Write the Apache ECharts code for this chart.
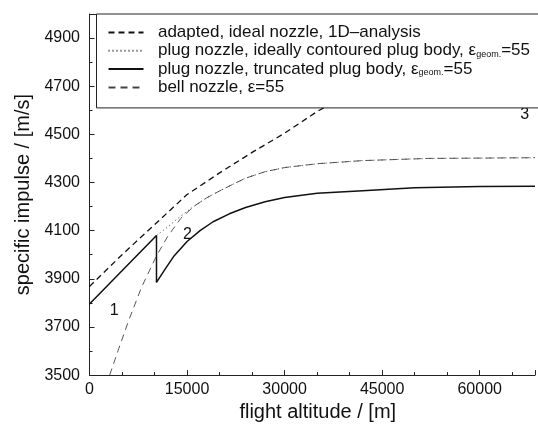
<!DOCTYPE html>
<html><head><meta charset="utf-8">
<script src="https://cdn.jsdelivr.net/npm/echarts@6/dist/echarts.min.js"></script>
<style>html,body{margin:0;padding:0;background:#fff}#c{width:538px;height:427px}</style>
</head><body><div id="c"></div>
<script>
// altitudes in m, specific impulse in m/s
const idealAlt = [0, 5000, 10000, 15000, 20000, 25000, 30000, 35000, 40000, 50000, 60000, 68500];
const idealIsp = [3868, 4000, 4125, 4250, 4340, 4425, 4505, 4595, 4670, 4800, 4910, 5000];

const plugIdealAlt = [0, 10300, 12000, 14000, 16000, 18000, 20000, 22000, 24000, 27000, 30000, 35000, 42000, 52000, 68500];
const plugIdealIsp = [3795, 4080, 4115, 4160, 4200, 4236, 4265, 4292, 4318, 4345, 4362, 4378, 4391, 4400, 4403];

const plugTruncAlt = [0, 10300, 10300, 11500, 13000, 15000, 17000, 19000, 21500, 24000, 27000, 30000, 35000, 42000, 50000, 60000, 68500];
const plugTruncIsp = [3795, 4080, 3885, 3935, 3995, 4055, 4100, 4137, 4170, 4196, 4220, 4238, 4255, 4266, 4278, 4283, 4284];

const bellAlt = [3100, 4500, 6000, 8000, 10300, 12000, 14000, 16000, 18000, 20000, 22000, 24000, 27000, 30000, 35000, 42000, 52000, 68500];
const bellIsp = [3500, 3610, 3725, 3865, 3995, 4075, 4150, 4200, 4236, 4265, 4292, 4318, 4345, 4362, 4378, 4391, 4400, 4403];

const seriesNames = [
  'adapted, ideal nozzle, 1D\u2013analysis',
  'plug nozzle, ideally contoured plug body',
  'plug nozzle, truncated plug body',
  'bell nozzle'
];
const legendTexts = [
  'adapted, ideal nozzle, 1D\u2013analysis',
  'plug nozzle, ideally contoured plug body, \u03b5{sub|geom.}=55',
  'plug nozzle, truncated plug body, \u03b5{sub|geom.}=55',
  'bell nozzle, \u03b5=55'
];
const curveLabels = ['1', '2', '3'];
const labelPos = [[3785, 3766], [15077, 4083], [66900, 4581]];

const yMin = 3500, yMax = 5000, yStep = 200;
const xMin = 0, xMax = 68500, xStep = 15000;

function zip(a, b) { return a.map((v, i) => [v, b[i]]); }

const FONT = 'Liberation Sans, Arial, Helvetica, sans-serif';
const chart = echarts.init(document.getElementById('c'), null, {renderer: 'canvas'});

const axisLineStyle = {color: '#222', width: 1};

chart.setOption({
  backgroundColor: '#fff',
  animation: false,
  grid: {left: 89.5, right: 0.5, top: 14, bottom: 43},
  legend: {
    orient: 'vertical',
    left: 96.5,
    top: 14,
    padding: [10, 40, 12, 11],
    backgroundColor: '#fff',
    borderColor: '#222',
    borderWidth: 1,
    itemWidth: 35,
    itemHeight: 10,
    itemGap: 1.3,
    selectedMode: false,
    z: 10,
    itemStyle: {opacity: 0},
    textStyle: {
      fontFamily: FONT, fontSize: 17, color: '#111', lineHeight: 17,
      rich: {sub: {fontFamily: FONT, fontSize: 9, color: '#111', lineHeight: 17, padding: [7, 0, 0, 0]}}
    },
    formatter: function (n) { return '  ' + legendTexts[seriesNames.indexOf(n)]; },
    data: seriesNames
  },
  xAxis: [{
    type: 'value', min: xMin, max: xMax, interval: xStep,
    name: 'flight altitude / [m]', nameLocation: 'middle', nameGap: 24,
    nameTextStyle: {fontFamily: FONT, fontSize: 20, color: '#111', padding: [0, 0, 0, 11]},
    axisLine: {show: true, lineStyle: axisLineStyle},
    axisTick: {show: true, inside: true, length: 5, lineStyle: axisLineStyle},
    minorTick: {show: true, splitNumber: 3, length: 3, lineStyle: axisLineStyle},
    axisLabel: {fontFamily: FONT, fontSize: 16, color: '#111', margin: 6,
      formatter: v => (v % xStep === 0 ? String(v) : '')},
    splitLine: {show: false}
  }, {
    type: 'value', position: 'top', min: xMin, max: xMax, interval: xStep,
    axisLine: {show: true, lineStyle: axisLineStyle},
    axisTick: {show: true, inside: true, length: 5, lineStyle: axisLineStyle},
    minorTick: {show: true, splitNumber: 3, length: 3, lineStyle: axisLineStyle},
    axisLabel: {show: false}, splitLine: {show: false}
  }],
  yAxis: {
    type: 'value', min: yMin, max: yMax, interval: yStep,
    name: 'specific impulse / [m/s]', nameLocation: 'middle', nameGap: 54,
    nameTextStyle: {fontFamily: FONT, fontSize: 20, color: '#111'},
    axisLine: {show: true, lineStyle: axisLineStyle},
    axisTick: {show: true, inside: true, length: 5, lineStyle: axisLineStyle},
    minorTick: {show: true, splitNumber: 2, length: 3, lineStyle: axisLineStyle},
    axisLabel: {fontFamily: FONT, fontSize: 16, color: '#111', margin: 9.5,
      formatter: v => ((v - yMin) % yStep === 0 ? String(v) : '')},
    splitLine: {show: false}
  },
  series: [
    {
      name: seriesNames[0], type: 'line', data: zip(idealAlt, idealIsp), showSymbol: false, symbol: 'none',
      lineStyle: {color: '#111', width: 1.3, type: [6, 4]}, z: 3,
      markPoint: {
        symbol: 'circle', symbolSize: 0, silent: true,
        label: {show: true, fontFamily: FONT, fontSize: 16, color: '#111', formatter: p => p.name, position: 'inside'},
        data: curveLabels.map((t, i) => ({name: t, coord: labelPos[i]}))
      }
    },
    {
      name: seriesNames[1], type: 'line', data: zip(plugIdealAlt, plugIdealIsp), showSymbol: false, symbol: 'none',
      lineStyle: {color: '#333', width: 1, type: [1, 3]}, z: 2
    },
    {
      name: seriesNames[2], type: 'line', data: zip(plugTruncAlt, plugTruncIsp), showSymbol: false, symbol: 'none',
      lineStyle: {color: '#111', width: 1.5, type: 'solid'}, z: 2
    },
    {
      name: seriesNames[3], type: 'line', data: zip(bellAlt, bellIsp), showSymbol: false, symbol: 'none',
      lineStyle: {color: '#444', width: 0.9, type: [7, 5]}, z: 2
    }
  ]
});
</script></body></html>
